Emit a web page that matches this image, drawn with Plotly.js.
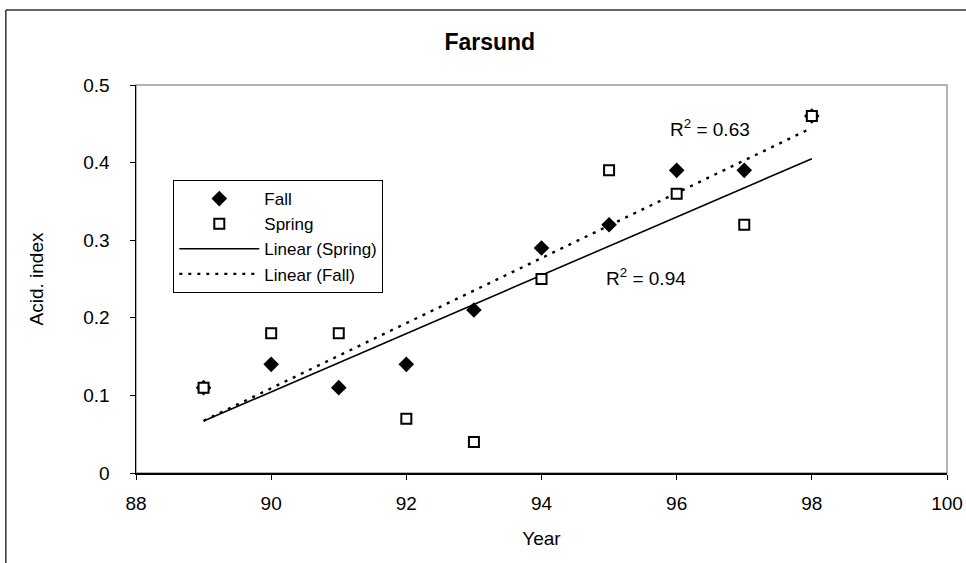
<!DOCTYPE html>
<html>
<head>
<meta charset="utf-8">
<script src="https://cdn.plot.ly/plotly-3.0.1.min.js"></script>
<style>
  html, body { margin: 0; padding: 0; background: #fff; }
  #chart { width: 966px; height: 563px; }
</style>
</head>
<body>
<div id="chart"></div>
<script>
// Acidification index at Farsund, fall and spring samples by year
const years = [89, 90, 91, 92, 93, 94, 95, 96, 97, 98];
const fallIndex = [0.11, 0.14, 0.11, 0.14, 0.21, 0.29, 0.32, 0.39, 0.39, 0.46];
const springIndex = [0.11, 0.18, 0.18, 0.07, 0.04, 0.25, 0.39, 0.36, 0.32, 0.46];
const xTicks = [88, 90, 92, 94, 96, 98, 100];
const yTicks = [0, 0.1, 0.2, 0.3, 0.4, 0.5];
const r2Labels = ['R<sup>2</sup> = 0.63', 'R<sup>2</sup> = 0.94'];

// Ordinary least-squares line through the points, evaluated at the first and last year
function linearFit(xs, ys) {
  const n = xs.length;
  const mx = xs.reduce((a, b) => a + b, 0) / n;
  const my = ys.reduce((a, b) => a + b, 0) / n;
  let sxy = 0, sxx = 0;
  for (let i = 0; i < n; i++) {
    sxy += (xs[i] - mx) * (ys[i] - my);
    sxx += (xs[i] - mx) * (xs[i] - mx);
  }
  const slope = sxy / sxx;
  const x0 = Math.min(...xs), x1 = Math.max(...xs);
  return { x: [x0, x1], y: [my + slope * (x0 - mx), my + slope * (x1 - mx)] };
}

const springFit = linearFit(years, springIndex);
const fallFit = linearFit(years, fallIndex);

const FONT = 'Liberation Sans, Arial, sans-serif';
const TXT = { family: FONT, size: 19, color: '#000' };

const traces = [
  {
    x: springFit.x, y: springFit.y, type: 'scatter', mode: 'lines',
    name: 'Linear (Spring)', legendrank: 3,
    line: { color: '#000', width: 1.6 }
  },
  {
    x: fallFit.x, y: fallFit.y, type: 'scatter', mode: 'lines',
    name: 'Linear (Fall)', legendrank: 4,
    line: { color: '#000', width: 2.4, dash: '3px,6px' }
  },
  {
    x: years, y: fallIndex, type: 'scatter', mode: 'markers',
    name: 'Fall', legendrank: 1,
    marker: { symbol: 'diamond', size: 12, color: '#000', line: { width: 0 } }
  },
  {
    x: years, y: springIndex, type: 'scatter', mode: 'markers',
    name: 'Spring', legendrank: 2,
    marker: { symbol: 'square', size: 10, color: '#fff', line: { color: '#000', width: 2 } }
  }
];

const layout = {
  width: 966, height: 563,
  margin: { l: 136, r: 19, t: 85, b: 90 },
  paper_bgcolor: '#fff', plot_bgcolor: '#fff',
  font: TXT,
  title: {
    text: '<b>Farsund</b>',
    font: { family: FONT, size: 23, color: '#000' },
    x: 0.507, xanchor: 'center', y: 0.925, yanchor: 'middle'
  },
  showlegend: true,
  legend: {
    x: 0.046, y: 0.755, xanchor: 'left', yanchor: 'top',
    bgcolor: '#fff', bordercolor: '#000', borderwidth: 1,
    font: { family: FONT, size: 17, color: '#000' },
    itemwidth: 80, tracegroupgap: 0, traceorder: 'normal'
  },
  xaxis: {
    range: [88, 100], tickvals: xTicks, ticktext: xTicks.map(String),
    showgrid: false, zeroline: false,
    showline: true, linecolor: '#000', linewidth: 1.5,
    ticks: 'outside', ticklen: 5, tickwidth: 1, tickcolor: '#000',
    ticklabelstandoff: 8,
    tickfont: TXT,
    title: { text: 'Year', font: TXT, standoff: 18 }
  },
  yaxis: {
    range: [0, 0.5], tickvals: yTicks, ticktext: yTicks.map(String),
    showgrid: false, zeroline: false,
    showline: true, linecolor: '#000', linewidth: 1.5,
    ticks: 'outside', ticklen: 5, tickwidth: 1, tickcolor: '#000',
    ticklabelstandoff: 16,
    tickfont: TXT,
    title: { text: 'Acid. index', font: TXT, standoff: 34 }
  },
  shapes: [
    // grey frame of the plotting area (top and right edges show)
    { type: 'rect', xref: 'paper', yref: 'paper', x0: 0, x1: 1, y0: 0, y1: 1,
      line: { color: '#9a9a9a', width: 1.5 }, layer: 'below' },
    // outer chart border
    { type: 'line', xref: 'paper', yref: 'paper', x0: -0.1605, x1: 1.05, y0: 1.193, y1: 1.193,
      line: { color: '#333', width: 1.5 } },
    { type: 'line', xref: 'paper', yref: 'paper', x0: -0.1605, x1: -0.1605, y0: 1.193, y1: -0.3,
      line: { color: '#333', width: 1.5 } }
  ],
  annotations: [
    { x: 95.87, y: 0.4446, xref: 'x', yref: 'y', xanchor: 'left', yanchor: 'middle',
      text: r2Labels[0], showarrow: false, font: TXT },
    { x: 94.93, y: 0.2526, xref: 'x', yref: 'y', xanchor: 'left', yanchor: 'middle',
      text: r2Labels[1], showarrow: false, font: TXT }
  ]
};

Plotly.newPlot('chart', traces, layout, { displayModeBar: false, staticPlot: true });
</script>
</body>
</html>
